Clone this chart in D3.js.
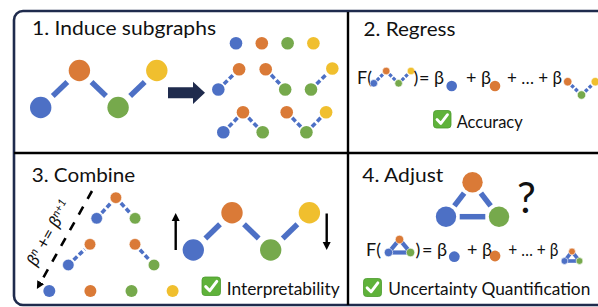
<!DOCTYPE html>
<html>
<head>
<meta charset="utf-8">
<script src="https://cdn.jsdelivr.net/npm/d3@7"></script>
<style>
body { margin: 0; background: #fff; }
text { font-family: Lato, "Open Sans", sans-serif; fill: #111; }
</style>
</head>
<body>
<svg width="598" height="307"></svg>
<script>
// node colours of the 4-node path graph (blue, orange, green, yellow)
var nodeColors = ["#4d70c5", "#da7a37", "#76a94c", "#f0bf2e"];
var edgeColor = "#4d70c5";
var navy = "#1f2b4d";

// subgraphs, as lists of node indices
var fullGraph = [0, 1, 2, 3];
var singles = [[0], [1], [2], [3]];
var pairs = [[0, 1], [1, 2], [2, 3]];
var triples = [[0, 1, 2], [1, 2, 3]];

var titles = ["1. Induce subgraphs", "2. Regress", "3. Combine", "4. Adjust"];
var benefits = ["Accuracy", "Interpretability", "Uncertainty Quantification"];

var svg = d3.select("svg");

// frame + dividers
svg.append("rect")
    .attr("x", 14).attr("y", 11).attr("width", 620).attr("height", 294)
    .attr("rx", 9)
    .attr("fill", "none").attr("stroke", navy).attr("stroke-width", 2.6);
svg.append("line").attr("x1", 348).attr("x2", 348).attr("y1", 12).attr("y2", 305)
    .attr("stroke", "#000").attr("stroke-width", 2.4);
svg.append("line").attr("x1", 14).attr("x2", 598).attr("y1", 153).attr("y2", 153)
    .attr("stroke", "#000").attr("stroke-width", 2.4);

// draws nodes + edges; nodes = [{c, x, y}], edges = [[i, j]]
function drawGraph(nodes, edges, o) {
  var g = svg.append("g");
  edges.forEach(function(e) {
    var a = nodes[e[0]], b = nodes[e[1]];
    var dx = b.x - a.x, dy = b.y - a.y, L = Math.sqrt(dx * dx + dy * dy);
    var ux = dx / L, uy = dy / L, s = o.r + o.gap;
    g.append("line")
        .attr("x1", a.x + ux * s).attr("y1", a.y + uy * s)
        .attr("x2", b.x - ux * s).attr("y2", b.y - uy * s)
        .attr("stroke", edgeColor).attr("stroke-width", o.w)
        .attr("stroke-dasharray", o.dash || null);
  });
  g.selectAll("circle").data(nodes).enter().append("circle")
      .attr("cx", function(d) { return d.x; })
      .attr("cy", function(d) { return d.y; })
      .attr("r", o.r)
      .attr("fill", function(d) { return nodeColors[d.c]; })
      .attr("stroke", "#fff").attr("stroke-width", o.r > 6 ? 0 : 0.6);
}

// zig-zag path subgraph: even nodes low, odd nodes high
function drawChain(idx, x0, low, step, rise, o) {
  var x = d3.scaleLinear().domain([0, 1]).range([x0, x0 + step]);
  var y = d3.scaleOrdinal().domain([0, 1]).range([low, low - rise]);
  var nodes = idx.map(function(c, k) { return {c: c, x: x(k), y: y(c % 2)}; });
  var edges = d3.range(idx.length - 1).map(function(k) { return [k, k + 1]; });
  drawGraph(nodes, edges, o);
}

// triangle graph: orange on top, blue and green below
function drawTriangle(cx, top, hw, h, o) {
  var nodes = [{c: 1, x: cx, y: top}, {c: 0, x: cx - hw, y: top + h}, {c: 2, x: cx + hw, y: top + h}];
  drawGraph(nodes, [[0, 1], [0, 2], [1, 2]], o);
}

function row(list, x0, y, step, r) {
  var x = d3.scaleLinear().domain([0, 1]).range([x0, x0 + step]);
  svg.append("g").selectAll("circle").data(list).enter().append("circle")
      .attr("cx", function(d, i) { return x(i); }).attr("cy", y).attr("r", r)
      .attr("fill", function(d) { return nodeColors[d[0]]; });
}

function label(t, x, y, size, width) {
  var e = svg.append("text").attr("x", x).attr("y", y)
      .attr("font-size", size).text(t);
  if (width) e.attr("textLength", width).attr("lengthAdjust", "spacingAndGlyphs");
  return e;
}

function check(x, y, s) {
  var g = svg.append("g").attr("transform", "translate(" + x + "," + y + ")");
  g.append("rect").attr("width", s).attr("height", s).attr("rx", 3)
      .attr("fill", "#5fb23a").attr("stroke", "#4a9a2c").attr("stroke-width", 0.8);
  g.append("path")
      .attr("d", "M" + s * 0.2 + "," + s * 0.52 + " L" + s * 0.42 + "," + s * 0.74 + " L" + s * 0.8 + "," + s * 0.24)
      .attr("fill", "none").attr("stroke", "#fff").attr("stroke-width", s * 0.16)
      .attr("stroke-linecap", "round").attr("stroke-linejoin", "round");
}

var big = {r: 10.7, gap: 6, w: 5.5};
var small = {r: 6.3, gap: 1.5, w: 3.6, dash: "5,2.5"};

// titles
label(titles[0], 32, 35, 18.5, 184);
label(titles[1], 363.5, 36, 18.5, 92);
label(titles[2], 31.7, 182, 18.5, 103.5);
label(titles[3], 362.3, 182, 18.5, 81);

// ---- panel 1
drawChain(fullGraph, 40.7, 107.5, 38.7, 37, big);
svg.append("path")
    .attr("d", "M168,87.3 L193,87.3 L193,81.7 L205,92.8 L193,104 L193,98.3 L168,98.3 Z")
    .attr("fill", navy);
row(singles, 236, 43.3, 25.8, 6.3);
drawChain(pairs[0], 218.3, 89.5, 20.8, 20.3, small);
drawChain(pairs[1], 265.7, 89.5, 19.5, 20.3, small);
drawChain(pairs[2], 311, 89.5, 21.3, 21, small);
drawChain(triples[0], 223.3, 132.3, 19.7, 20, small);
drawChain(triples[1], 286.7, 132.3, 19.7, 20, small);

// ---- panel 2
label("F(", 357, 84, 18);
drawChain(fullGraph, 373.8, 83.3, 12.4, 12.3, {r: 3.8, gap: 0.5, w: 3.2, dash: "3.5,1.5"});
label(")", 413.5, 84, 18);
label("= β", 419, 84, 18);
svg.append("circle").attr("cx", 451.7).attr("cy", 86).attr("r", 5.3).attr("fill", nodeColors[0]);
label("+ β", 466, 84, 18);
svg.append("circle").attr("cx", 495).attr("cy", 86).attr("r", 5.3).attr("fill", nodeColors[1]);
label("+ … + β", 507, 84, 18, 55);
drawChain(triples[1], 567.7, 95, 13.8, 13.3, {r: 4.2, gap: 0.8, w: 3.4, dash: "3.5,1.8"});
check(433.5, 110.5, 17.5);
label(benefits[0], 456.7, 128, 18, 66);

// ---- panel 3
var diag = svg.append("g");
diag.append("defs").append("marker")
    .attr("id", "head").attr("viewBox", "0 0 10 10").attr("refX", 2).attr("refY", 5)
    .attr("markerWidth", 8).attr("markerHeight", 8).attr("markerUnits", "userSpaceOnUse")
    .attr("orient", "auto")
    .append("path").attr("d", "M0,0 L10,5 L0,10 Z").attr("fill", "#000");
diag.append("line").attr("x1", 92).attr("y1", 191).attr("x2", 40).attr("y2", 283.5)
    .attr("stroke", "#000").attr("stroke-width", 2.6).attr("stroke-dasharray", "9,9")
    .attr("marker-end", "url(#head)");
var eq = svg.append("text")
    .attr("transform", "translate(54,236) rotate(-60.3)")
    .attr("text-anchor", "middle").attr("font-size", 17.5);
eq.append("tspan").attr("font-style", "italic").text("β");
eq.append("tspan").attr("dy", -6).attr("font-size", 11).attr("font-style", "italic").text("n");
eq.append("tspan").attr("dy", 6).text(" += ");
eq.append("tspan").attr("font-style", "italic").text("β");
eq.append("tspan").attr("dy", -6).attr("font-size", 11).attr("font-style", "italic").text("n+1");

var mid = {r: 5.8, gap: 1.5, w: 3.6, dash: "5,2.5"};
drawChain(triples[0], 96.7, 218.3, 19.2, 20.6, mid);
drawChain(pairs[0], 68.3, 265, 21.7, 20.7, mid);
drawChain(pairs[1], 135, 265, 19, 20.7, mid);
row(singles, 49.3, 291, 41.1, 6);
drawChain(fullGraph, 193.3, 250, 38.7, 37.3, big);

function vArrow(x, y1, y2) {
  var dir = y2 < y1 ? 1 : -1;
  svg.append("line").attr("x1", x).attr("x2", x).attr("y1", y1).attr("y2", y2 + dir * 6)
      .attr("stroke", "#000").attr("stroke-width", 2.4);
  svg.append("path")
      .attr("d", "M" + (x - 4) + "," + (y2 + dir * 8) + " L" + x + "," + y2 + " L" + (x + 4) + "," + (y2 + dir * 8) + " Z")
      .attr("fill", "#000");
}
vArrow(175.7, 250, 213);
vArrow(326.7, 213.5, 250);

check(202, 277, 18.5);
label(benefits[1], 226.7, 294.5, 18, 113);

// ---- panel 4
drawTriangle(472.5, 182.3, 26.5, 34.4, {r: 10.2, gap: 3.5, w: 5.5});
label("?", 517, 213, 42);
label("F(", 366, 256, 18);
drawTriangle(399.5, 239.5, 11, 13, {r: 4.2, gap: -1, w: 4.2});
label(")", 415.5, 256, 18);
label("= β", 422, 256, 18);
svg.append("circle").attr("cx", 454.3).attr("cy", 256.7).attr("r", 5.4).attr("fill", nodeColors[0]);
label("+ β", 467, 256, 18);
svg.append("circle").attr("cx", 495).attr("cy", 256).attr("r", 5.4).attr("fill", nodeColors[1]);
label("+ …  + β", 508.3, 256, 18, 50);
drawTriangle(572, 251.5, 7.5, 9.5, {r: 3.4, gap: -1, w: 3.6});
check(363.5, 278.5, 18);
label(benefits[2], 388.3, 295, 18, 202);
</script>
</body>
</html>
